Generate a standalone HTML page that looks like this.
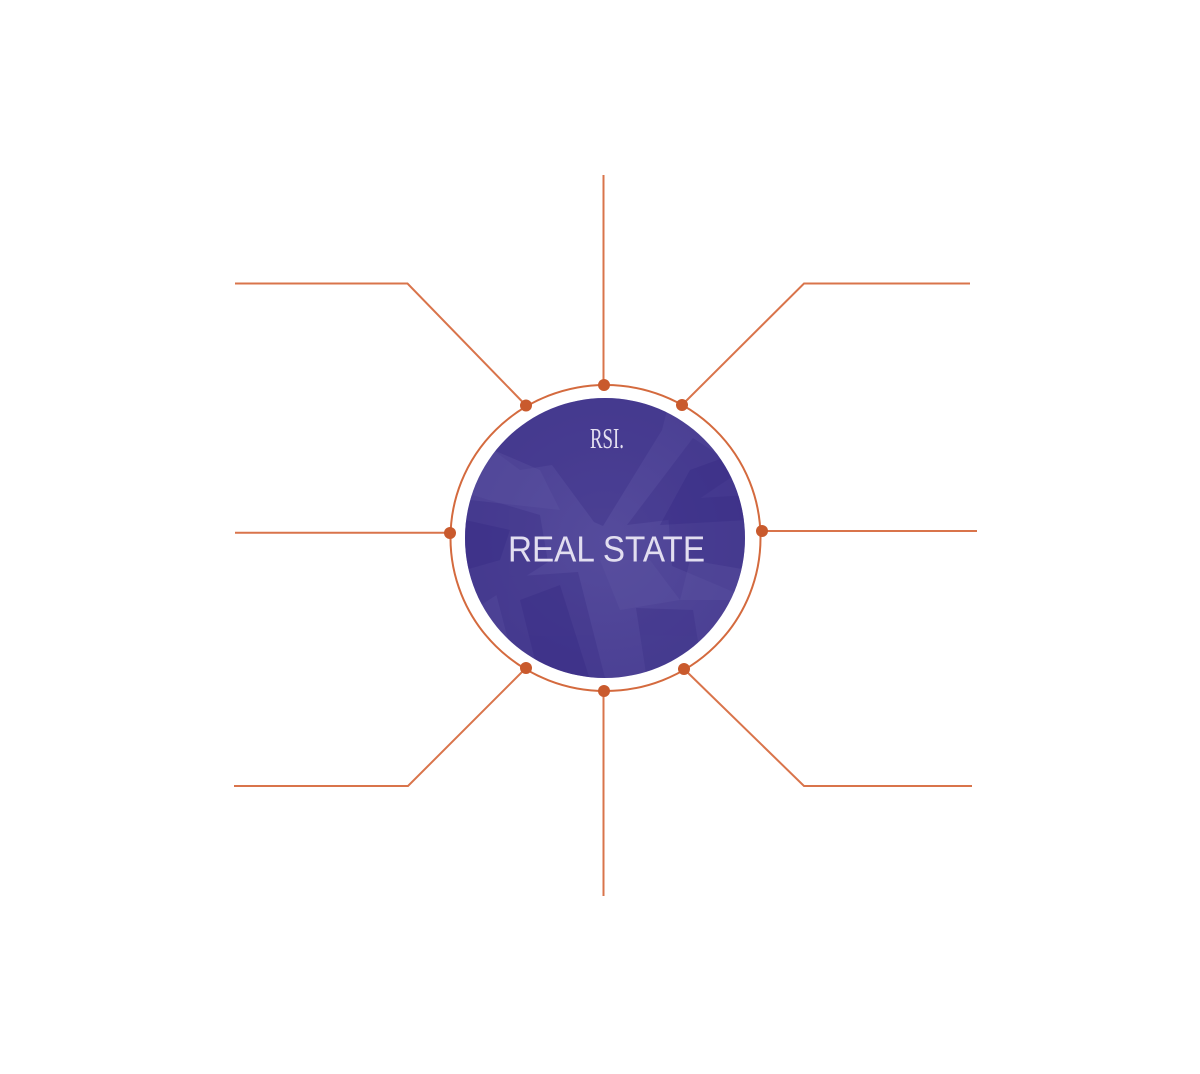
<!DOCTYPE html>
<html><head><meta charset="utf-8"><style>
html,body{margin:0;padding:0;background:#fff;}
svg{display:block;}
</style></head><body>
<svg width="1200" height="1074" viewBox="0 0 1200 1074" xmlns="http://www.w3.org/2000/svg">
<defs>
<clipPath id="c"><circle cx="605" cy="538" r="140"/></clipPath>
<radialGradient id="g" cx="50%" cy="50%" r="50%">
<stop offset="0" stop-color="#554b9c"/>
<stop offset="1" stop-color="#4b4094"/>
</radialGradient>
</defs>
<g stroke="#d9744b" stroke-width="2" fill="none">
<polyline points="235,283.5 407.5,283.5 526,405.5"/>
<polyline points="970,283.5 804,283.5 682,405"/>
<polyline points="234,786 408,786 526,668"/>
<polyline points="972,786 804,786 684,669"/>
<line x1="235" y1="532.7" x2="450" y2="532.7"/>
<line x1="762" y1="531" x2="977" y2="531"/>
<line x1="603.5" y1="175" x2="603.5" y2="385"/>
<line x1="603.5" y1="691" x2="603.5" y2="896"/>
</g>
<ellipse cx="605.5" cy="538" rx="155" ry="153" fill="none" stroke="#d46a3e" stroke-width="2"/>
<g clip-path="url(#c)">
<rect x="460" y="395" width="290" height="290" fill="url(#g)"/>
<g fill="#3d3188" opacity="0.4">
<polygon points="533,398 670,398 662,430 603,526 594,522 552,465 520,470 493,450 520,420"/>
<polygon points="627,525 693,438 742,470 668,520"/>
<polygon points="667,500 748,495 748,598 672,566"/>
<polygon points="462,492 540,515 548,562 470,612 462,600"/>
<polygon points="492,578 578,572 606,682 518,678"/>
<polygon points="636,608 693,610 704,680 648,686"/>
</g>
<g fill="#332680" opacity="0.3">
<polygon points="690,470 745,450 748,520 660,525"/>
<polygon points="520,600 560,585 590,680 540,680"/>
<polygon points="465,520 510,530 500,560 465,570"/>
</g>
<g fill="#5f56a3" opacity="0.35">
<polygon points="470,440 540,470 560,510 470,500"/>
<polygon points="690,560 748,570 745,600 680,600"/>
<polygon points="600,560 650,560 680,600 620,610"/>
</g>
</g>
<g fill="#c95a2d">
<circle cx="526" cy="405.5" r="6"/>
<circle cx="604" cy="385" r="6"/>
<circle cx="682" cy="405" r="6"/>
<circle cx="450" cy="533" r="6"/>
<circle cx="762" cy="531" r="6"/>
<circle cx="526" cy="668" r="6"/>
<circle cx="604" cy="691" r="6"/>
<circle cx="684" cy="669" r="6"/>
</g>
<text x="607" y="448" text-anchor="middle" font-family="Liberation Serif, serif" font-size="28" fill="#e4e0f0" textLength="34" lengthAdjust="spacingAndGlyphs">RSI.</text>
<text x="606.5" y="561.5" text-anchor="middle" font-family="Liberation Sans, sans-serif" font-size="36" fill="#e2def0" textLength="197" lengthAdjust="spacingAndGlyphs">REAL STATE</text>
</svg>
</body></html>
